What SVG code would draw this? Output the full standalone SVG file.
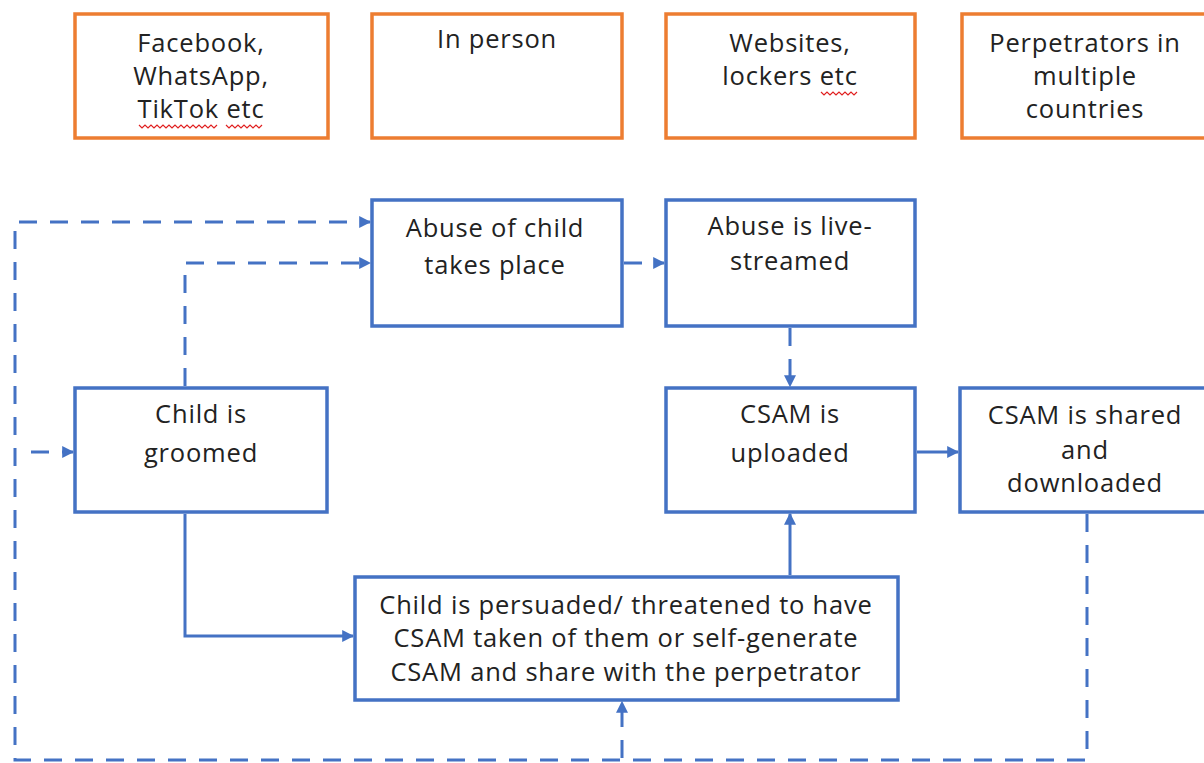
<svg xmlns="http://www.w3.org/2000/svg" width="1204" height="763" viewBox="0 0 1204 763">
<defs>
<style>
.ob{fill:#fff;stroke:#ED7D31;stroke-width:3.5}
.bb{fill:#fff;stroke:#4472C4;stroke-width:3.5}
.t{font-family:"Open Sans","Liberation Sans",sans-serif;font-size:25.5px;font-weight:500;letter-spacing:0.8px;fill:#222;text-anchor:middle}
.c{fill:none;stroke:#4472C4;stroke-width:3}
.d{stroke-dasharray:18 13}
.sq{fill:none;stroke:#E02020;stroke-width:1.2}
</style>
<marker id="a" viewBox="0 0 10 10" refX="9" refY="5" markerWidth="4" markerHeight="4" orient="auto" markerUnits="strokeWidth">
<path d="M0,0 L10,5 L0,10 z" fill="#4472C4"/>
</marker>
</defs>
<rect width="1204" height="763" fill="#fff"/>

<g id="n-facebook">
<rect class="ob" x="75" y="14" width="253" height="124"/>
<text class="t" x="201" y="52">Facebook,</text>
<text class="t" x="201" y="85">WhatsApp,</text>
<text class="t" x="201" y="118">TikTok etc</text>
<path class="sq" d="M139,125 l3,3 l3,-3 l3,3 l3,-3 l3,3 l3,-3 l3,3 l3,-3 l3,3 l3,-3 l3,3 l3,-3 l3,3 l3,-3 l3,3 l3,-3 l3,3 l3,-3 l3,3 l3,-3 l3,3 l3,-3 l3,3 l3,-3 l3,3 l3,-3 M226,125 l3,3 l3,-3 l3,3 l3,-3 l3,3 l3,-3 l3,3 l3,-3 l3,3 l3,-3 l3,3 l3,-3"/>
</g>
<g id="n-inperson">
<rect class="ob" x="372" y="14" width="250" height="124"/>
<text class="t" x="497" y="48">In person</text>
</g>
<g id="n-websites">
<rect class="ob" x="666" y="14" width="249" height="124"/>
<text class="t" x="790" y="52">Websites,</text>
<text class="t" x="790" y="85">lockers etc</text>
<path class="sq" d="M821,92 l3,3 l3,-3 l3,3 l3,-3 l3,3 l3,-3 l3,3 l3,-3 l3,3 l3,-3 l3,3 l3,-3"/>
</g>
<g id="n-perpetrators">
<rect class="ob" x="962" y="14" width="250" height="124"/>
<text class="t" x="1085" y="52">Perpetrators in</text>
<text class="t" x="1085" y="85">multiple</text>
<text class="t" x="1085" y="118">countries</text>
</g>

<g id="n-abuse">
<rect class="bb" x="372" y="200" width="250" height="126"/>
<text class="t" x="495" y="237">Abuse of child</text>
<text class="t" x="495" y="274">takes place</text>
</g>
<g id="n-live">
<rect class="bb" x="666" y="200" width="249" height="126"/>
<text class="t" x="790" y="235">Abuse is live-</text>
<text class="t" x="790" y="270">streamed</text>
</g>
<g id="n-groomed">
<rect class="bb" x="75" y="388" width="252" height="124"/>
<text class="t" x="201" y="423">Child is</text>
<text class="t" x="201" y="462">groomed</text>
</g>
<g id="n-uploaded">
<rect class="bb" x="666" y="388" width="249" height="124"/>
<text class="t" x="790" y="423">CSAM is</text>
<text class="t" x="790" y="462">uploaded</text>
</g>
<g id="n-shared">
<rect class="bb" x="960" y="388" width="252" height="124"/>
<text class="t" x="1085" y="424">CSAM is shared</text>
<text class="t" x="1085" y="459">and</text>
<text class="t" x="1085" y="492">downloaded</text>
</g>
<g id="n-persuaded">
<rect class="bb" x="355" y="577" width="543" height="123"/>
<text class="t" x="626" y="614">Child is persuaded/ threatened to have</text>
<text class="t" x="626" y="647">CSAM taken of them or self-generate</text>
<text class="t" x="626" y="681">CSAM and share with the perpetrator</text>
</g>

<g id="connectors">
<path class="c d" d="M1087,514 V760 H15 V222 H370" marker-end="url(#a)"/>
<path class="c d" d="M31,452 H73" marker-end="url(#a)"/>
<path class="c d" d="M622,758 V702" marker-end="url(#a)"/>
<path class="c d" d="M185,386 V263 H370" marker-end="url(#a)"/>
<path class="c d" d="M624,263 H664" marker-end="url(#a)"/>
<path class="c d" d="M790,328 V386" marker-end="url(#a)"/>
<path class="c" d="M917,452 H958" marker-end="url(#a)"/>
<path class="c" d="M185,514 V636 H353" marker-end="url(#a)"/>
<path class="c" d="M790,575 V514" marker-end="url(#a)"/>
</g>
</svg>
